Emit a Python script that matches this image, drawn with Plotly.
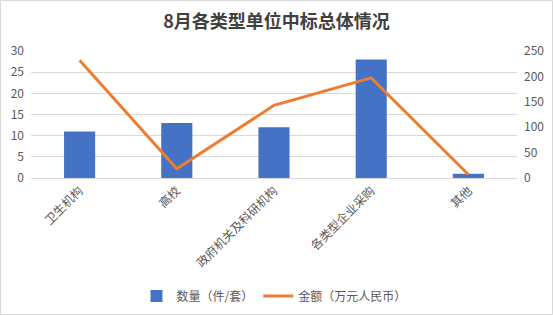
import plotly.graph_objects as go

categories = ["卫生机构", "高校", "政府机关及科研机构", "各类型企业采购", "其他"]
quantity = [11, 13, 12, 28, 1]
amount = [232, 18, 143, 197, 7]
left_ticks = [0, 5, 10, 15, 20, 25, 30]
right_ticks = [0, 50, 100, 150, 200, 250]

W, H = 553, 315
L, R, T, B = 31, 517, 51, 178  # plot area pixel box
pw, ph = R - L, B - T

font_family = "Noto Sans CJK SC, Microsoft YaHei, sans-serif"
grey = "#595959"

fig = go.Figure()
fig.add_trace(go.Bar(
    x=categories, y=quantity, name="数量（件/套）",
    marker=dict(color="#4472C4", line=dict(width=0)),
    yaxis="y",
))
fig.add_trace(go.Scatter(
    x=categories, y=amount, name="金额（万元人民币）",
    mode="lines", line=dict(color="#ED7D31", width=3),
    yaxis="y2",
))

def px_x(p):
    return (p - L) / pw

def px_y(p):
    return (B - p) / ph

fig.update_layout(
    width=W, height=H,
    margin=dict(l=L, r=W - R, t=T, b=H - B, autoexpand=False),
    paper_bgcolor="white", plot_bgcolor="white",
    font=dict(family=font_family, size=12, color=grey),
    title=dict(text="<b>8月各类型单位中标总体情况</b>", x=0.5, xanchor="center",
               y=1 - 22 / H, yanchor="middle",
               font=dict(size=18, color="#404040", family=font_family)),
    bargap=0.68,
    showlegend=True,
    legend=dict(orientation="h", x=0.5, xanchor="center", y=px_y(296), yanchor="middle",
                font=dict(size=12, color=grey), itemwidth=30, traceorder="normal"),
    xaxis=dict(tickangle=-45, showgrid=False, showline=True, linecolor="#D9D9D9",
               ticks="", tickfont=dict(size=12, color=grey)),
    yaxis=dict(range=[0, 30], tickvals=left_ticks, showgrid=True, gridcolor="#D9D9D9",
               gridwidth=1, zeroline=False, ticks="", showline=False,
               ticklabelstandoff=6,
               tickfont=dict(size=12, color=grey)),
    yaxis2=dict(range=[0, 250], tickvals=right_ticks, overlaying="y", side="right",
                showgrid=False, zeroline=False, ticks="", showline=False,
                ticklabelstandoff=6,
                tickfont=dict(size=12, color=grey)),
    shapes=[dict(type="rect", xref="paper", yref="paper",
                 x0=px_x(0.5), x1=px_x(552.5), y0=px_y(314.5), y1=px_y(0.5),
                 line=dict(color="#D9D9D9", width=1), layer="below")],
)

fig.write_html("out.html")
